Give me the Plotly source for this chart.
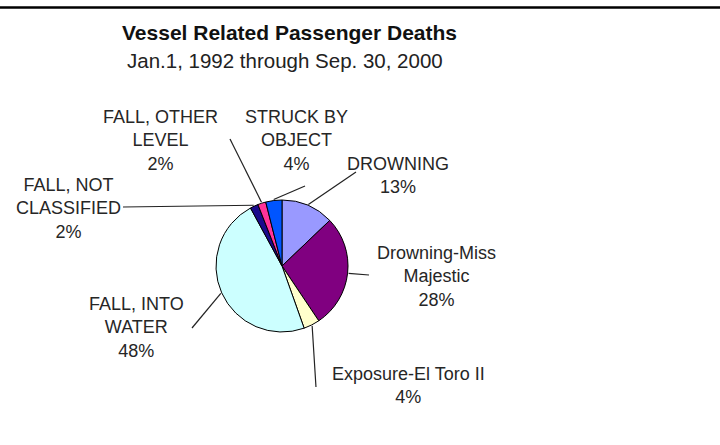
import math
import plotly.graph_objects as go

# Passenger deaths by cause (percent of total)
causes = [
    "DROWNING",
    "Drowning-Miss<br>Majestic",
    "Exposure-El Toro II",
    "FALL, INTO<br>WATER",
    "FALL, NOT<br>CLASSIFIED",
    "FALL, OTHER<br>LEVEL",
    "STRUCK BY<br>OBJECT",
]
shares = [13, 28, 4, 48, 2, 2, 4]
slice_colors = ["#9999FF", "#800080", "#FFFFCC", "#CCFFFF", "#1A0A8C", "#FF3399", "#0055FF"]

W, H = 720, 445
CX, CY, R = 282, 266, 66  # pie centre and radius, pixels

# Label text block positions (pixel x, pixel y of first line) and leader end points
label_pos = [
    (398, 163, (356, 172)),
    (437, 252, (369, 275)),
    (408, 373, (316, 387)),
    (136, 303, (192, 328)),
    (68, 184, (123, 207)),
    (160, 116, (230, 139)),
    (296, 116, (305, 186)),
]

fig = go.Figure()
fig.add_trace(go.Pie(
    labels=causes,
    values=shares,
    sort=False,
    direction="clockwise",
    rotation=0,
    marker=dict(colors=slice_colors, line=dict(color="#000000", width=1)),
    textinfo="none",
    hoverinfo="label+percent",
    showlegend=False,
    domain=dict(x=[(CX - R) / W, (CX + R) / W], y=[(H - CY - R) / H, (H - CY + R) / H]),
))

def px(x):
    return x / W

def py(y):
    return 1 - y / H

total = sum(shares)
cum = 0
shapes = []
annotations = []
font_lbl = dict(family="Liberation Sans, Arial, sans-serif", size=18, color="#262626")
for name, val, (lx, ly, (ex, ey)) in zip(causes, shares, label_pos):
    mid = (cum + val / 2) / total * 2 * math.pi
    cum += val
    sx = CX + (R + 1) * math.sin(mid)
    sy = CY - (R + 1) * math.cos(mid)
    shapes.append(dict(
        type="line", xref="paper", yref="paper",
        x0=px(sx), y0=py(sy), x1=px(ex), y1=py(ey),
        line=dict(color="#222222", width=1.2),
    ))
    pct = round(val / total * 100)
    annotations.append(dict(
        text=f"{name}<br>{pct}%",
        xref="paper", yref="paper",
        x=px(lx), y=py(ly - 11),
        xanchor="center", yanchor="top",
        showarrow=False, align="center", font=font_lbl,
    ))

# Rule across the top of the page
shapes.append(dict(type="line", xref="paper", yref="paper",
                   x0=0, x1=1, y0=py(7.5), y1=py(7.5),
                   line=dict(color="#000000", width=2.5)))

annotations.append(dict(
    text="<b>Vessel Related Passenger Deaths</b>",
    xref="paper", yref="paper", x=px(289), y=py(32),
    xanchor="center", yanchor="middle", showarrow=False,
    font=dict(family="Liberation Sans, Arial, sans-serif", size=21, color="#111111"),
))
annotations.append(dict(
    text="Jan.1, 1992 through Sep. 30, 2000",
    xref="paper", yref="paper", x=px(285), y=py(61),
    xanchor="center", yanchor="middle", showarrow=False,
    font=dict(family="Liberation Sans, Arial, sans-serif", size=20.5, color="#222222"),
))

fig.update_layout(
    width=W, height=H,
    margin=dict(l=0, r=0, t=0, b=0),
    paper_bgcolor="#FFFFFF",
    plot_bgcolor="#FFFFFF",
    shapes=shapes,
    annotations=annotations,
)

fig.write_html("out.html")
